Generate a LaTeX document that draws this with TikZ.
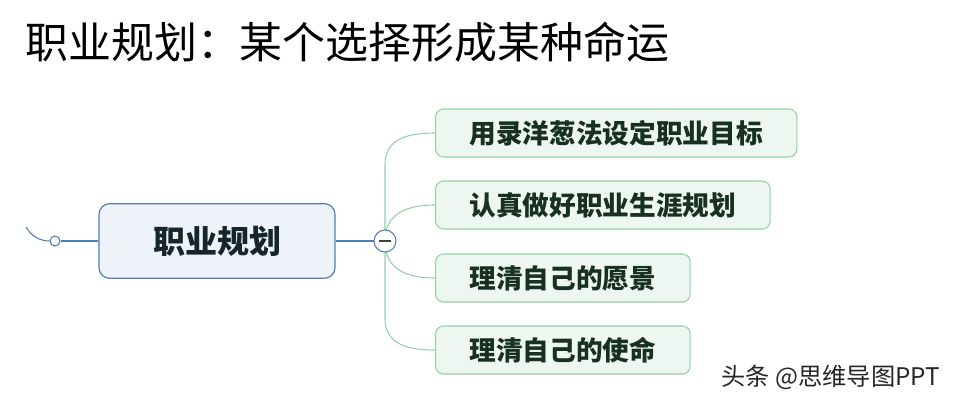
\documentclass[tikz,border=0pt]{standalone}
\usepackage{fontspec}
\newfontfamily\cjk{Noto Sans CJK SC}
\definecolor{bluel}{HTML}{4F7FBA}
\definecolor{bluef}{HTML}{EEF3FA}
\definecolor{greenl}{HTML}{93D1A3}
\definecolor{greenf}{HTML}{EEF6F1}
\definecolor{greent}{HTML}{18301F}
\definecolor{maint}{HTML}{16262C}
\begin{document}
\begin{tikzpicture}[x=0.75pt,y=-0.75pt,
  centralbox/.style={draw=bluel,line width=0.9pt,fill=bluef,rounded corners=8pt,
    minimum width=177pt,minimum height=56pt,inner sep=0pt,
    font=\cjk\bfseries\fontsize{24pt}{28pt}\selectfont,text=maint},
  childbox/.style={draw=greenl,line width=0.8pt,fill=greenf,rounded corners=6pt,
    minimum height=36pt,inner xsep=25.5pt,inner ysep=0pt,anchor=west,
    font=\cjk\bfseries\fontsize{20pt}{24pt}\selectfont,text=greent},
  gline/.style={draw=greenl,line width=0.8pt},
  bline/.style={draw=bluel,line width=0.8pt}]
\useasboundingbox (0,0) rectangle (962,401);
% title
\node[anchor=west,inner sep=0pt,font=\cjk\fontsize{32.2pt}{36pt}\selectfont,text=black] (title) at (25,42) {职业规划：某个选择形成某种命运};
% central
\node[centralbox] (center) at (217,241) {职业规划};
% left connector
\node[circle,draw=bluel,line width=0.8pt,fill=white,minimum size=7.5pt,inner sep=0pt] (lc) at (55,241) {};
\coordinate (lstart) at (26,227);
\draw[bline] (lstart) .. controls (31,236) and (40,241) .. (lc.west);
\draw[bline] (lc.east) -- (center.west);
% children
\node[childbox] (c1) at (435,133) {用录洋葱法设定职业目标};
\node[childbox] (c2) at (435,205) {认真做好职业生涯规划};
\node[childbox] (c3) at (435,278) {理清自己的愿景};
\node[childbox] (c4) at (435,350) {理清自己的使命};
\coordinate (hub) at (385,241);
\coordinate (v1) at (385,165);
\coordinate (v4) at (385,318);
\draw[gline] (hub) -- (v1) .. controls (385,143) and (400,133) .. (c1.west);
\draw[gline] (hub) .. controls (385,218) and (400,205) .. (c2.west);
\draw[gline] (hub) .. controls (385,265) and (400,278) .. (c3.west);
\draw[gline] (hub) -- (v4) .. controls (385,340) and (400,350) .. (c4.west);
% minus circle
\draw[bline] (center.east) -- (hub);
\node[circle,draw=bluel,line width=0.8pt,fill=white,minimum size=16.5pt,inner sep=0pt] (mc) at (hub) {};
\draw[draw=black!75,line width=0.9pt] ([xshift=-4.5pt]mc.center) -- ([xshift=4.5pt]mc.center);
% watermark
\node[anchor=west,inner sep=0pt,font=\cjk\fontsize{18.2pt}{21pt}\selectfont,text=black!85] (wm) at (721,377) {头条 @思维导图PPT};
\end{tikzpicture}
\end{document}
